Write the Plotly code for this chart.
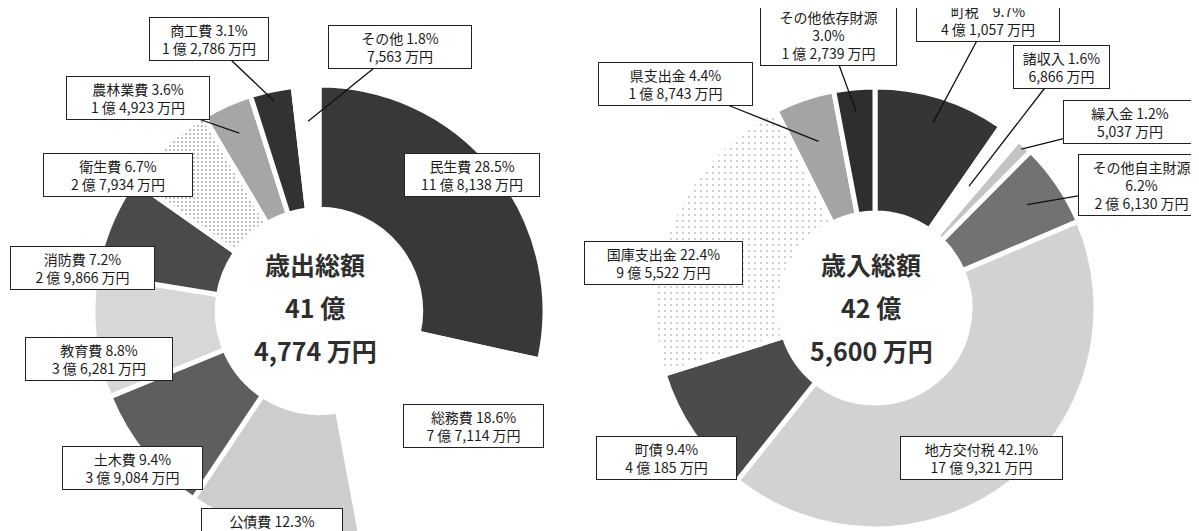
import math
import plotly.graph_objects as go

W, H = 1199, 531

# ---------------- data (万円) ----------------
exp_labels = ["民生費", "総務費", "公債費", "土木費", "教育費", "消防費", "衛生費", "農林業費", "商工費", "その他"]
exp_values = [118138, 77114, 51085, 39084, 36281, 29866, 27934, 14923, 12786, 7563]
exp_pct = ["28.5%", "18.6%", "12.3%", "9.4%", "8.8%", "7.2%", "6.7%", "3.6%", "3.1%", "1.8%"]
exp_amount = ["11 億 8,138 万円", "7 億 7,114 万円", "5 億 1,085 万円", "3 億 9,084 万円", "3 億 6,281 万円",
              "2 億 9,866 万円", "2 億 7,934 万円", "1 億 4,923 万円", "1 億 2,786 万円", "7,563 万円"]
exp_total = ["歳出総額", "41 億", "4,774 万円"]

rev_labels = ["町税", "諸収入", "繰入金", "その他自主財源", "地方交付税", "町債", "国庫支出金", "県支出金", "その他依存財源"]
rev_values = [41057, 6866, 5037, 26130, 179321, 40185, 95522, 18743, 12739]
rev_pct = ["9.7%", "1.6%", "1.2%", "6.2%", "42.1%", "9.4%", "22.4%", "4.4%", "3.0%"]
rev_amount = ["4 億 1,057 万円", "6,866 万円", "5,037 万円", "2 億 6,130 万円", "17 億 9,321 万円",
              "4 億 185 万円", "9 億 5,522 万円", "1 億 8,743 万円", "1 億 2,739 万円"]
rev_total = ["歳入総額", "42 億", "5,600 万円"]

# ---------------- styles ----------------
exp_colors = ["#383838", "#ffffff", "#cdcdcd", "#5e5e5e", "#d7d7d7", "#4a4a4a", "#ececec", "#a6a6a6", "#323232", "#ffffff"]
exp_shapes = ["", "", "", "", "", "", ".", "", "", ""]
rev_colors = ["#353535", "#ffffff", "#c4c4c4", "#727272", "#d2d2d2", "#4b4b4b", "#fafafa", "#a4a4a4", "#2e2e2e"]
rev_shapes = ["", "", "", "", "", "", ".", "", ""]

L_CX, L_CY, L_R, L_HOLE = 311, 303, 226, 0.45
R_CX, R_CY, R_R, R_HOLE = 867, 300, 221, 0.43

# label box: (center x px, center y px, box width px, leader tip radius or None, multiline)
exp_boxes = [
    (464, 167, 136, None, False),
    (465, 418, 141, None, False),
    (264, 522, 142, None, False),
    (124, 460, 141, None, False),
    (91, 351, 148, None, False),
    (74, 260, 145, None, False),
    (110, 167, 150, None, False),
    (130, 90, 144, 195, False),
    (201, 31, 120, 215, False),
    (392, 39, 144, 190, False),
]
rev_boxes = [
    (980, 12, 144, 194, False),
    (1053, 59, 97, 154, False),
    (1122, 114, 134, 216, False),
    (1133, 177, 127, 184, True),
    (973, 450, 163, None, False),
    (659, 450, 141, None, False),
    (655, 255, 159, None, False),
    (667, 76, 155, 176, False),
    (820, 27, 137, 196, True),
]


def domain(cx, cy, r):
    return dict(x=[(cx - r) / W, (cx + r) / W], y=[1 - (cy + r) / H, 1 - (cy - r) / H])


fig = go.Figure()
fig.add_trace(go.Pie(
    labels=exp_labels, values=exp_values, sort=False, direction="clockwise", rotation=0,
    hole=L_HOLE, domain=domain(L_CX, L_CY, L_R), textinfo="none", showlegend=False,
    marker=dict(colors=exp_colors, line=dict(color="white", width=5),
                pattern=dict(shape=exp_shapes, fgcolor="#a8a8a8", size=4, solidity=0.2)),
))
fig.add_trace(go.Pie(
    labels=rev_labels, values=rev_values, sort=False, direction="clockwise", rotation=0,
    hole=R_HOLE, domain=domain(R_CX, R_CY, R_R), textinfo="none", showlegend=False,
    marker=dict(colors=rev_colors, line=dict(color="white", width=5),
                pattern=dict(shape=rev_shapes, fgcolor="#bdbdbd", size=6, solidity=0.08)),
))

annotations = []
label_font = dict(family="Noto Sans CJK JP", size=14, color="#1a1a1a")


def add_labels(labels, values, pcts, amounts, boxes, cx, cy):
    total = sum(values)
    cum = 0
    for lab, v, p, a, (bx, by, bw, rt, multi) in zip(labels, values, pcts, amounts, boxes):
        mid = (cum + v / 2) / total * 2 * math.pi
        cum += v
        sep = "<br>" if multi else " "
        if lab == "町税":
            sep = "　"
        text = f"{lab}{sep}{p}<br>{a}"
        common = dict(text=text, font=label_font, bgcolor="white", bordercolor="#222",
                      borderwidth=1, borderpad=2, width=bw - 6, align="center",
                      xref="paper", yref="paper")
        if rt is None:
            annotations.append(dict(x=bx / W, y=1 - by / H, xanchor="center", yanchor="middle",
                                    showarrow=False, **common))
        else:
            px = cx + rt * math.sin(mid)
            py = cy - rt * math.cos(mid)
            annotations.append(dict(x=px / W, y=1 - py / H, ax=bx - px, ay=by - py,
                                    axref="pixel", ayref="pixel", showarrow=True, arrowhead=0,
                                    arrowwidth=1.3, arrowcolor="#111", standoff=0, **common))


add_labels(exp_labels, exp_values, exp_pct, exp_amount, exp_boxes, L_CX, L_CY)
add_labels(rev_labels, rev_values, rev_pct, rev_amount, rev_boxes, R_CX, R_CY)

center_font = dict(family="Noto Sans CJK JP", size=25, color="#2e2e2e")
for lines, cx in ((exp_total, L_CX), (rev_total, R_CX)):
    for i, t in enumerate(lines):
        annotations.append(dict(text=f"<b>{t}</b>", x=(cx - 4) / W, y=1 - (256 + 43 * i) / H,
                                xref="paper", yref="paper", showarrow=False, font=center_font,
                                xanchor="center", yanchor="middle"))

fig.update_layout(width=W, height=H, margin=dict(l=0, r=0, t=0, b=0),
                  paper_bgcolor="white", plot_bgcolor="white", annotations=annotations)
fig.write_html("out.html")
